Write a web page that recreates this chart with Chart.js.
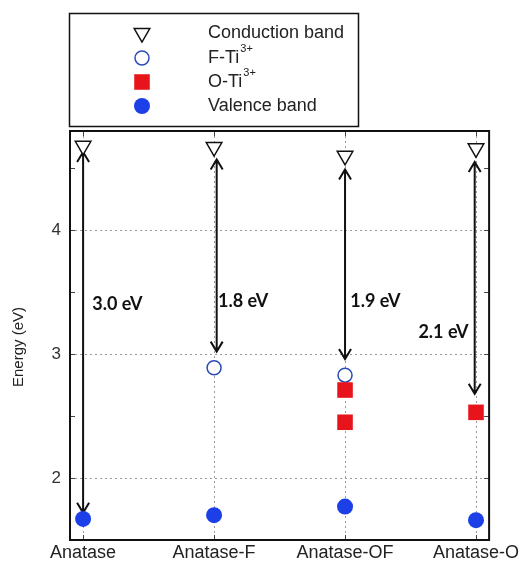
<!DOCTYPE html>
<html>
<head>
<meta charset="utf-8">
<script src="https://cdn.jsdelivr.net/npm/chart.js@4"></script>
<style>
  html, body { margin: 0; padding: 0; background: #fff; }
  #chart { display: block; }
</style>
</head>
<body>
<canvas id="chart" width="522" height="563"></canvas>
<script>
// ---- Band levels (eV) per sample ----
const categories = ['Anatase', 'Anatase-F', 'Anatase-OF', 'Anatase-O'];
const conductionBand = [4.68, 4.67, 4.60, 4.66];
const valenceBand = [1.67, 1.70, 1.77, 1.66];
const fTiLevels = [null, 2.89, 2.83, null];
const oTiUpper = [null, null, 2.71, 2.53];
const oTiLower = [null, null, 2.45, null];
const yTicks = [2, 2.5, 3, 3.5, 4, 4.5];

// ---- Gap arrows and their labels ----
const gapArrowX = [1.0, 2.02, 3.0, 3.99];
const gapArrowTop = [4.63, 4.57, 4.49, 4.55];
const gapArrowBottom = [1.72, 3.02, 2.96, 2.68];
const gapLabels = ['3.0 eV', '1.8 eV', '1.9 eV', '2.1 eV'];
const gapLabelX = [1.07, 2.03, 3.04, 3.56];
const gapLabelY = [3.40, 3.43, 3.43, 3.18];

const BLUE = '#1d3fe8';
const RED = '#e8141c';
const INK = '#111';

function toPoints(values) {
    return values.map((v, i) => v == null ? null : { x: i + 1, y: v }).filter(Boolean);
}

Chart.defaults.font.family = '"Liberation Sans", Arial, sans-serif';
Chart.defaults.color = '#222';

const datasets = [
    { label: 'Conduction band', data: toPoints(conductionBand), pointStyle: 'triangle', rotation: 180,
      radius: 9, borderWidth: 1.5, borderColor: INK, backgroundColor: '#fff', order: 1 },
    { label: 'F-Ti', sup: '3+', data: toPoints(fTiLevels), pointStyle: 'circle',
      radius: 7, borderWidth: 1.5, borderColor: '#2b4bb5', backgroundColor: '#fff', order: 1 },
    { label: 'O-Ti', sup: '3+', data: toPoints(oTiUpper).concat(toPoints(oTiLower)), pointStyle: 'rect',
      radius: 11, borderWidth: 0, borderColor: RED, backgroundColor: RED, order: 0 },
    { label: 'Valence band', data: toPoints(valenceBand), pointStyle: 'circle',
      radius: 8, borderWidth: 0, borderColor: BLUE, backgroundColor: BLUE, order: 1 }
];

// arrows sit under the markers, frame + labels + legend on top
const bandNotes = {
    id: 'bandNotes',
    beforeDatasetsDraw(chart) {
        const { ctx, scales: { x, y } } = chart;
        ctx.save();
        ctx.strokeStyle = INK;
        ctx.lineWidth = 2;
        gapArrowX.forEach((gx, i) => {
            const px = x.getPixelForValue(gx);
            const top = y.getPixelForValue(gapArrowTop[i]);
            const bot = y.getPixelForValue(gapArrowBottom[i]);
            ctx.beginPath();
            ctx.moveTo(px, top); ctx.lineTo(px, bot);
            ctx.moveTo(px - 6, top + 10); ctx.lineTo(px, top); ctx.lineTo(px + 6, top + 10);
            ctx.moveTo(px - 6, bot - 10); ctx.lineTo(px, bot); ctx.lineTo(px + 6, bot - 10);
            ctx.stroke();
        });
        ctx.restore();
    },
    afterDatasetsDraw(chart) {
        const { ctx, chartArea: a, scales: { x, y } } = chart;
        ctx.save();

        // gap values
        ctx.fillStyle = INK;
        ctx.font = 'bold 18px Lato, sans-serif';
        ctx.textAlign = 'left';
        ctx.textBaseline = 'middle';
        gapLabels.forEach((t, i) => {
            ctx.fillText(t, x.getPixelForValue(gapLabelX[i]), y.getPixelForValue(gapLabelY[i]));
        });

        // inward tick marks on all four sides
        ctx.strokeStyle = '#444';
        ctx.lineWidth = 1;
        ctx.beginPath();
        y.ticks.forEach(t => {
            const py = Math.round(y.getPixelForValue(t.value)) + 0.5;
            ctx.moveTo(a.left, py); ctx.lineTo(a.left + 5, py);
            ctx.moveTo(a.right, py); ctx.lineTo(a.right - 5, py);
        });
        x.ticks.forEach(t => {
            const px = Math.round(x.getPixelForValue(t.value)) + 0.5;
            ctx.moveTo(px, a.bottom); ctx.lineTo(px, a.bottom - 5);
            ctx.moveTo(px, a.top); ctx.lineTo(px, a.top + 5);
        });
        ctx.stroke();

        // plot frame
        ctx.strokeStyle = INK;
        ctx.lineWidth = 2;
        ctx.strokeRect(a.left, a.top, a.right - a.left, a.bottom - a.top);

        // y title
        ctx.fillStyle = '#222';
        ctx.font = '15px "Liberation Sans", Arial, sans-serif';
        ctx.textAlign = 'center';
        ctx.translate(19, 347);
        ctx.rotate(-Math.PI / 2);
        ctx.fillText('Energy (eV)', 0, 0);
        ctx.restore();
    },
    afterDraw(chart) {
        const { ctx } = chart;
        ctx.save();
        ctx.strokeStyle = INK;
        ctx.lineWidth = 1.5;
        ctx.strokeRect(69.5, 13.5, 289, 113);

        const rows = [33, 58, 82, 106];
        chart.data.datasets.forEach((ds, i) => {
            ctx.fillStyle = ds.backgroundColor;
            ctx.strokeStyle = ds.borderColor;
            ctx.lineWidth = ds.borderWidth;
            Chart.helpers.drawPoint(ctx, {
                pointStyle: ds.pointStyle, rotation: ds.rotation || 0,
                radius: ds.radius, borderWidth: ds.borderWidth
            }, 142, rows[i]);

            ctx.fillStyle = '#222';
            ctx.font = '18px "Liberation Sans", Arial, sans-serif';
            ctx.textAlign = 'left';
            ctx.textBaseline = 'middle';
            ctx.fillText(ds.label, 208, rows[i]);
            if (ds.sup) {
                const w = ctx.measureText(ds.label).width;
                ctx.font = '11px "Liberation Sans", Arial, sans-serif';
                ctx.fillText(ds.sup, 208 + w + 1, rows[i] - 9);
            }
        });
        ctx.restore();
    }
};

new Chart(document.getElementById('chart'), {
    type: 'scatter',
    data: { datasets },
    options: {
        responsive: false,
        animation: false,
        layout: { padding: { top: 131, right: 31, left: 0, bottom: 0 } },
        plugins: { legend: { display: false }, tooltip: { enabled: false } },
        scales: {
            x: {
                type: 'linear', min: 0.9, max: 4.1,
                afterBuildTicks: s => { s.ticks = categories.map((c, i) => ({ value: i + 1 })); },
                afterFit: s => { s.height = 23; },
                ticks: { callback: v => categories[v - 1] || '', font: { size: 18 }, color: '#222', padding: 2, maxRotation: 0 },
                grid: { color: '#9a9a9a', lineWidth: 1, drawTicks: false },
                border: { display: false, dash: [2, 3] }
            },
            y: {
                min: 1.5, max: 4.8,
                afterBuildTicks: s => { s.ticks = yTicks.map(v => ({ value: v })); },
                afterFit: s => { s.width = 70; },
                ticks: { callback: v => Number.isInteger(v) ? v : '', font: { size: 17 }, color: '#333', padding: 9 },
                grid: {
                    color: c => c.tick && Number.isInteger(c.tick.value) ? '#9a9a9a' : 'rgba(0,0,0,0)',
                    lineWidth: 1, drawTicks: false
                },
                border: { display: false, dash: [2, 3] }
            }
        }
    },
    plugins: [bandNotes]
});
</script>
</body>
</html>
